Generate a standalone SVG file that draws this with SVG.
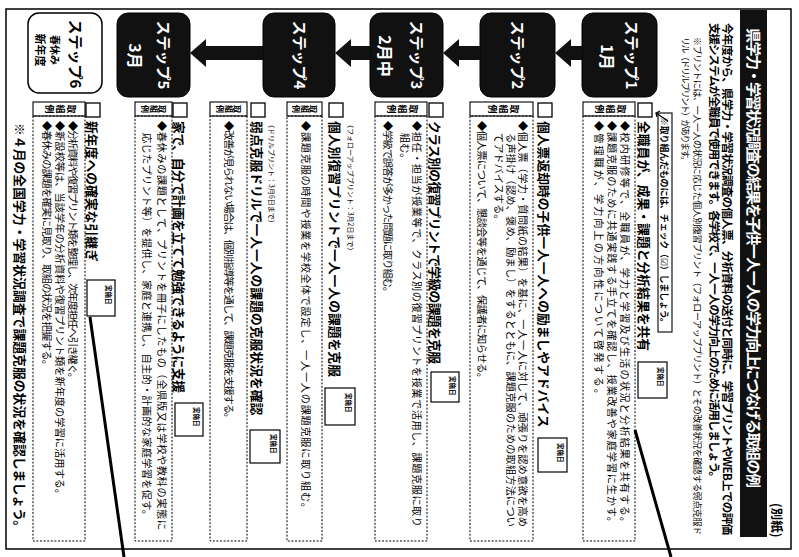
<svg xmlns="http://www.w3.org/2000/svg" width="799" height="557" viewBox="0 0 799 557">
<style>
text{font-family:"Noto Sans CJK JP","Noto Sans CJK SC","DejaVu Sans",sans-serif;fill:#000}
.h{font-size:12.8px;font-weight:700}
.b{font-size:10.2px}
.st{font-size:15px;font-weight:700;fill:#fff;text-anchor:middle}
.sm{font-size:16px;font-weight:700;fill:#fff;text-anchor:middle}
.box{fill:#111;stroke:#000;stroke-width:1}
.cb{fill:#fff;stroke:#000;stroke-width:1.3}
.lab{fill:#fff;stroke:#000;stroke-width:1.1}
.dot{fill:none;stroke:#000;stroke-width:1;stroke-dasharray:2 1.6}
.dt{fill:#fff;stroke:#000;stroke-width:1.2}
.dtt{font-size:6.5px;font-weight:700}
.lt{font-size:9px;font-weight:700;writing-mode:vertical-rl;text-anchor:middle;letter-spacing:2px}
.ann{font-size:7px}
.arr{fill:#111}
</style>
<rect width="799" height="557" fill="#fff"/>
<g transform="translate(799,0) rotate(90)">
  <!-- page frame -->
  <rect x="9" y="8" width="540" height="785" fill="none" stroke="#000" stroke-width="1.5"/>
  <g id="header">
    <text x="503" y="27" style="font-size:12.5px;font-weight:700">(別紙)</text>
    <rect x="10" y="32" width="527" height="27" fill="#111"/>
    <text x="28" y="51" textLength="460" style="font-size:15px;font-weight:700;fill:#fff">県学力・学習状況調査の結果を子供一人一人の学力向上につなげる取組の例</text>
    <text x="23" y="76" textLength="512" style="font-size:11.5px;font-weight:700">今年度から、県学力・学習状況調査の個人票、分析資料の送付と同時に、学習プリントやWEB上での評価</text>
    <text x="23" y="89" textLength="460" style="font-size:11.5px;font-weight:700">支援システムが全職員で使用できます。各学校で、一人一人の学力向上のために活用しましょう。</text>
    <text x="37" y="105" textLength="498" style="font-size:9px">※プリントには、一人一人の状況に応じた個人別復習プリント（フォローアッププリント）とその改善状況を確認する弱点克服ド</text>
    <text x="37" y="117" textLength="128" style="font-size:9px">リル（ドリルプリント）があります。</text>
  </g>

  <g id="step1">
    <rect class="box" x="13" y="142" width="84" height="75" rx="11"/>
    <text class="st" x="55" y="173">ステップ1</text>
    <text class="sm" x="57" y="198">1月</text>
    <rect fill="#fff" stroke="#000" stroke-width="1.1" x="113" y="127" width="219" height="14"/>
    <text x="117" y="138" textLength="210" style="font-size:9px;font-weight:700">※取り組んだものには、チェック（☑）しましょう。</text>
    <path d="M121 131 L113 143 L111 139 M113 143 L117 142" fill="none" stroke="#000" stroke-width="1.2"/>
    <rect class="cb" x="103" y="147" width="14" height="14"/>
    <text class="h" x="121" y="160">全職員が、成果・課題と分析結果を共有</text>
    <rect class="dt" x="362" y="132" width="36" height="29"/>
    <text class="dtt" x="367" y="141">実施日</text>
    <rect class="lab" x="102" y="164" width="14" height="52"/>
    <text class="lt" x="109" y="190">取組例</text>
    <rect class="dot" x="116" y="164" width="425" height="52"/>
    <text class="b" x="121" y="178" textLength="406">◆校内研修等で、全職員が、学力と学習及び生活の状況と分析結果を共有する。</text>
    <text class="b" x="121" y="191" textLength="406">◆課題克服のために共通実践する手立てを確認し、授業改善や家庭学習に生かす。</text>
    <text class="b" x="121" y="204" textLength="278">◆管理職が、学力向上の方向性について啓発する。</text>
  </g>

  <g id="step2">
    <rect class="box" x="13" y="244" width="84" height="75" rx="11"/>
    <text class="st" x="55" y="287">ステップ2</text>
    <rect class="cb" x="103" y="247" width="14" height="14"/>
    <text class="h" x="121" y="260">個人票返却時の子供一人一人への励ましやアドバイス</text>
    <rect class="dt" x="438" y="232" width="34" height="29"/>
    <text class="dtt" x="443" y="241">実施日</text>
    <rect class="lab" x="102" y="266" width="14" height="63"/>
    <text class="lt" x="109" y="297">取組例</text>
    <rect class="dot" x="116" y="266" width="425" height="63"/>
    <text class="b" x="121" y="280" textLength="406">◆個人票（学力・質問紙の結果）を基に、一人一人に対して、頑張りを認め意欲を高め</text>
    <text class="b" x="133" y="292" textLength="394">る声掛け（認め、褒め、励まし）をするとともに、課題克服のための取組方法につい</text>
    <text class="b" x="133" y="304">てアドバイスする。</text>
    <text class="b" x="121" y="321" textLength="262">◆個人票について、懇談会等を通じて、保護者に知らせる。</text>
  </g>

  <g id="step3">
    <rect class="box" x="13" y="356" width="84" height="73" rx="11"/>
    <text class="st" x="55" y="388">ステップ3</text>
    <text class="sm" x="56" y="420">2月中</text>
    <rect class="cb" x="103" y="356" width="14" height="14"/>
    <text class="h" x="121" y="369" textLength="243">クラス別の復習プリントで学級の課題を克服</text>
    <rect class="dt" x="372" y="340" width="30" height="28"/>
    <text class="dtt" x="376" y="349">実施日</text>
    <rect class="lab" x="102" y="372" width="14" height="52"/>
    <text class="lt" x="109" y="398">取組例</text>
    <rect class="dot" x="116" y="372" width="425" height="52"/>
    <text class="b" x="121" y="386" textLength="406">◆担任・担当が授業等で、クラス別の復習プリントを授業で活用し、課題克服に取り</text>
    <text class="b" x="133" y="398">組む。</text>
    <text class="b" x="121" y="415" textLength="176">◆学級で誤答が多かった問題に取り組む。</text>
  </g>

  <g id="step4">
    <rect class="box" x="13" y="464" width="84" height="72" rx="11"/>
    <text class="st" x="55" y="505">ステップ4</text>
    <text class="ann" x="121" y="451">（フォローアッププリント：3月2日まで）</text>
    <rect class="cb" x="103" y="456" width="14" height="14"/>
    <text class="h" x="121" y="469">個人別復習プリントで一人一人の課題を克服</text>
    <rect class="dt" x="388" y="444" width="37" height="30"/>
    <text class="dtt" x="393" y="453">実施日</text>
    <rect class="lab" x="102" y="477" width="14" height="35"/>
    <text class="lt" x="109" y="494.5" style="font-size:8px;letter-spacing:0.5px">取組例</text>
    <rect class="dot" x="116" y="477" width="425" height="35"/>
    <text class="b" x="121" y="497" textLength="392">◆課題克服の時間や授業を学校全体で設定し、一人一人の課題克服に取り組む。</text>

    <text class="ann" x="121" y="530">（ドリルプリント：3月6日まで）</text>
    <rect class="cb" x="103" y="534" width="14" height="14"/>
    <text class="h" x="121" y="547">弱点克服ドリルで一人一人の課題の克服状況を確認</text>
    <rect class="dt" x="430" y="519" width="33" height="30"/>
    <text class="dtt" x="434" y="528">実施日</text>
    <rect class="lab" x="102" y="552" width="14" height="37"/>
    <text class="lt" x="109" y="570.5" style="font-size:8px;letter-spacing:0.5px">取組例</text>
    <rect class="dot" x="116" y="552" width="425" height="37"/>
    <text class="b" x="121" y="574" textLength="302">◆改善が見られない場合は、個別指導等を通して、課題克服を支援する。</text>
  </g>

  <g id="step5">
    <rect class="box" x="13" y="609" width="84" height="73" rx="11"/>
    <text class="st" x="55" y="641">ステップ5</text>
    <text class="sm" x="56" y="670">3月</text>
    <rect class="cb" x="103" y="612" width="14" height="14"/>
    <text class="h" x="121" y="625" textLength="272">家で、自分で計画を立てて勉強できるように支援</text>
    <rect class="dt" x="403" y="596" width="33" height="28"/>
    <text class="dtt" x="407" y="605">実施日</text>
    <rect class="lab" x="102" y="627" width="14" height="37"/>
    <text class="lt" x="109" y="645.5" style="font-size:8px;letter-spacing:0.5px">取組例</text>
    <rect class="dot" x="116" y="627" width="425" height="37"/>
    <text class="b" x="121" y="641" textLength="409">◆春休みの課題として、プリントを冊子にしたもの（全県版又は学校や教科の実態に</text>
    <text class="b" x="133" y="656" textLength="387">応じたプリント等）を提供し、家庭と連携し、自主的・計画的な家庭学習を促す。</text>
  </g>

  <g id="step6">
    <rect x="13" y="697" width="80" height="74" rx="11" fill="#fff" stroke="#000" stroke-width="1.5"/>
    <text x="54" y="729" style="font-size:15px;font-weight:700;text-anchor:middle">ステップ6</text>
    <text x="50" y="748" style="font-size:10px;font-weight:700;text-anchor:middle">春休み</text>
    <text x="50" y="763" style="font-size:11px;font-weight:700;text-anchor:middle">新年度</text>
    <rect class="cb" x="103" y="699" width="14" height="14"/>
    <text class="h" x="121" y="712">新年度への確実な引継ぎ</text>
    <rect class="dt" x="280" y="684" width="36" height="28"/>
    <text class="dtt" x="285" y="693">実施日</text>
    <rect class="lab" x="102" y="714" width="14" height="52"/>
    <text class="lt" x="109" y="740">取組例</text>
    <rect class="dot" x="116" y="714" width="425" height="52"/>
    <text class="b" x="121" y="730" textLength="262">◆分析資料や復習プリント類を整理し、次年度担任へ引き継ぐ。</text>
    <text class="b" x="121" y="743" textLength="378">◆新設校等は、当該学年の分析資料や復習プリント類を新年度の学習に活用する。</text>
    <text class="b" x="121" y="756" textLength="249">◆春休みの課題を確実に見取り、取組の状況を把握する。</text>
  </g>

  <g id="footer">
    <text x="123" y="784" textLength="410" style="font-size:12.8px;font-weight:700">※４月の全国学力・学習状況調査で課題克服の状況を確認しましょう。</text>
  </g>

  <g id="connectors">
    <polygon class="arr" points="46,217 60,217 60,228 67,228 53,244 39,228 46,228"/>
    <polygon class="arr" points="46,319 60,319 60,340 67,340 53,356 39,340 46,340"/>
    <polygon class="arr" points="46,429 60,429 60,448 67,448 53,464 39,448 46,448"/>
    <polygon class="arr" points="46,536 60,536 60,593 67,593 53,609 39,593 46,593"/>
  </g>

  <g id="marks">
    <line x1="430" y1="164" x2="557" y2="128" stroke="#000" stroke-width="3"/>
    <line x1="317" y1="709" x2="557" y2="675" stroke="#000" stroke-width="3"/>
  </g>
</g>
</svg>
